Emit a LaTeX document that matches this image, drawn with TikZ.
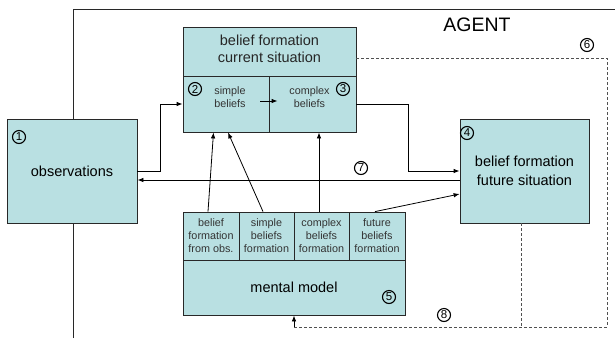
\documentclass[tikz,border=0pt]{standalone}
\usepackage{fontspec}
\setmainfont{Liberation Sans}
\usetikzlibrary{arrows.meta,calc}
\definecolor{boxfill}{RGB}{185,224,226}
\definecolor{linegray}{RGB}{40,40,40}
\definecolor{dashgray}{RGB}{80,80,80}
\begin{document}
\begin{tikzpicture}[x=1pt,y=-1pt,
  box/.style={draw=linegray,fill=boxfill,line width=0.8pt,inner sep=0pt},
  bigtxt/.style={align=center,font=\fontsize{14.5}{17}\selectfont,text=black!85,inner sep=0pt},
  smalltxt/.style={align=center,font=\fontsize{10.8}{13}\selectfont,text=black!80,inner sep=0pt},
  num/.style={circle,draw=black,line width=1.1pt,inner sep=0pt,minimum size=13pt,font=\fontsize{11.5}{11.5}\selectfont},
  arr/.style={draw=black,line width=0.8pt,-{Latex[length=6pt,width=4.5pt]}},
  dsh/.style={draw=dashgray,line width=0.9pt,dash pattern=on 3pt off 2pt}
]
\useasboundingbox (0,0) rectangle (615,338);
% agent frame
\coordinate (ftl) at (73,9);
\coordinate (fbl) at (73,338);
\coordinate (ftr) at (615,9);
\draw[draw=linegray,line width=0.8pt] (fbl) -- (ftl) -- (ftr);
\node[font=\fontsize{19.5}{20}\selectfont] (agent) at (477,25) {AGENT};

% observations
\node[box,minimum width=130pt,minimum height=104pt,font=\fontsize{14.5}{17}\selectfont] (obs) at (72,171) {observations};

% current situation
\node[box,minimum width=173pt,minimum height=49pt] (curtop) at (269.5,51.5) {};
\node[bigtxt] (curt) at (269.5,49) {belief formation\\current situation};
\node[box,minimum width=86pt,minimum height=56pt] (simple) at (226,104) {};
\node[box,minimum width=87pt,minimum height=56pt] (complex) at (312.5,104) {};
\node[smalltxt] (simplet) at (230,97) {simple\\beliefs};
\node[smalltxt] (complext) at (309.5,97) {complex\\beliefs};

% future situation
\node[box,minimum width=129pt,minimum height=104pt,align=center,font=\fontsize{14.5}{19}\selectfont] (fut) at (524.5,171) {belief formation\\future situation};

% mental model
\node[box,minimum width=56pt,minimum height=48pt,smalltxt] (mm1) at (211,236) {belief\\formation\\from obs.};
\node[box,minimum width=55pt,minimum height=48pt,smalltxt] (mm2) at (266.5,236) {simple\\beliefs\\formation};
\node[box,minimum width=55pt,minimum height=48pt,smalltxt] (mm3) at (321.5,236) {complex\\beliefs\\formation};
\node[box,minimum width=56pt,minimum height=48pt,smalltxt] (mm4) at (377,236) {future\\beliefs\\formation};
\node[box,minimum width=222pt,minimum height=55pt,font=\fontsize{14.5}{17}\selectfont] (mmb) at (294,287.5) {mental model};

% numbers
\node[num] (n1) at (19,137) {1};
\node[num] (n2) at (195,89) {2};
\node[num] (n3) at (343,89) {3};
\node[num] (n4) at (467,133) {4};
\node[num] (n5) at (389,297) {5};
\node[num] (n6) at (587,45) {6};
\node[num] (n7) at (361,168) {7};
\node[num] (n8) at (444,315) {8};

% connectors
\draw[arr] (obs.east) -- ++(23,0) |- (simple.west);
\draw[arr] (complex.east) -- ++(52,0) |- (fut.west);
\draw[arr] ([yshift=-9pt]fut.west) -- ([yshift=-9pt]obs.east);
\draw[arr] ([xshift=-9pt,yshift=3pt]simple.east) -- ([xshift=9pt,yshift=3pt]complex.west);
\draw[arr] ([xshift=-3pt]mm1.north) -- ([xshift=-12.5pt]simple.south);
\draw[arr] ([xshift=-3.5pt]mm2.north) -- ([xshift=2pt]simple.south);
\draw[arr] ([xshift=-2.5pt]mm3.north) -- ([xshift=6.5pt]complex.south);
\draw[arr] ([xshift=-2pt]mm4.north) -- ([yshift=-23pt]fut.west);

% dashed feedback
\coordinate (d6) at (607,58);
\coordinate (d8) at (607,327);
\coordinate (f8) at ([xshift=-3.5pt]fut.south);
\draw[dsh] ([yshift=-6.5pt]curtop.east) -- (d6) -- (d8) -- (mmb.south |- d8);
\draw[dsh] (f8) -- (f8 |- d8);
\draw[arr] (mmb.south |- d8) -- (mmb.south);
\end{tikzpicture}
\end{document}
